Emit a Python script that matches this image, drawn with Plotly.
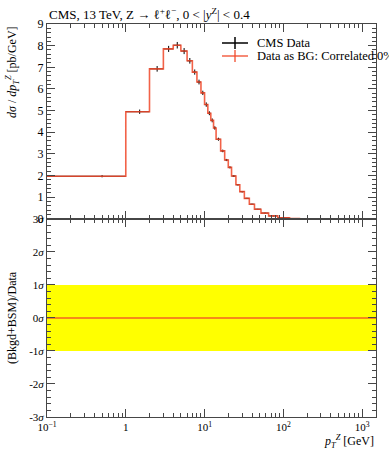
import plotly.graph_objects as go

# ---- data ----
bin_edges = [0, 1, 2, 3, 4, 5, 6, 7, 8, 9, 10, 11, 12, 13, 14, 16, 18, 20, 22, 25, 28,
             32, 37, 43, 52, 65, 85, 120, 160, 190, 220, 250, 300, 350, 400, 450, 500,
             1000, 1500]
cms_values = [1.97, 4.95, 6.93, 7.85, 8.02, 7.75, 7.30, 6.78, 6.32, 5.82, 5.28, 4.88,
              4.55, 4.20, 3.68, 3.14, 2.72, 2.38, 1.98, 1.58, 1.26, 0.95, 0.68, 0.45,
              0.27, 0.14, 0.055, 0.02, 0.009, 0.005, 0.003, 0.0017, 0.0009, 0.0005,
              0.0003, 0.0002, 0.00005, 0.000005]
cms_errors = [0.05, 0.10, 0.13, 0.14, 0.15, 0.14, 0.13, 0.12, 0.11, 0.10, 0.10, 0.09,
              0.09, 0.08, 0.07, 0.06, 0.05, 0.05, 0.04, 0.03, 0.03, 0.02, 0.02, 0.01,
              0.01, 0.005, 0.002, 0.001, 0.0005, 0.0003, 0.0002, 0.0001, 0.0001,
              0.00005, 0.00003, 0.00002, 0.00001, 0.000001]
bg_values = list(cms_values)  # Data as BG: Correlated 0%
pull_values = [0.0] * len(cms_values)
sigma_band = 1.0

y_tick_vals = [0, 1, 2, 3, 4, 5, 6, 7, 8, 9]
pull_tick_vals = [-3, -2, -1, 0, 1, 2, 3]
pull_tick_text = ["-3<i>σ</i>", "-2<i>σ</i>", "-1<i>σ</i>", "0<i>σ</i>",
                  "1<i>σ</i>", "2<i>σ</i>", "3<i>σ</i>"]
x_tick_vals = [0.1, 1, 10, 100, 1000]
x_tick_text = ["10<sup>−1</sup>", "1", "10<sup>1</sup>", "10<sup>2</sup>", "10<sup>3</sup>"]

FONT = "Liberation Serif"
RED = "rgba(240,70,40,0.85)"
AX = "rgb(70,70,70)"

# plot-safe edges on log axis
lo = [e if e > 0 else 0.01 for e in bin_edges[:-1]]
hi = bin_edges[1:]
centers = [(a + b) / 2 for a, b in zip(bin_edges[:-1], bin_edges[1:])]
xerr_m = [c - a for c, a in zip(centers, lo)]
xerr_p = [b - c for c, b in zip(centers, hi)]

step_x = lo + [hi[-1]]
step_y = bg_values + [bg_values[-1]]

fig = go.Figure()

# CMS data
fig.add_trace(go.Scatter(
    x=centers, y=cms_values, mode="markers",
    marker=dict(size=1, color="black"),
    error_y=dict(type="data", array=cms_errors, color="black", thickness=1, width=0),
    error_x=dict(type="data", array=xerr_p, arrayminus=xerr_m, color="black",
                 thickness=1, width=0),
    xaxis="x", yaxis="y", showlegend=False, hoverinfo="skip"))

# Data as BG
fig.add_trace(go.Scatter(
    x=step_x, y=step_y, mode="lines", line=dict(color=RED, width=1.6, shape="hv"),
    xaxis="x", yaxis="y", showlegend=False, hoverinfo="skip"))

# bottom panel band
band_x = lo + [hi[-1]]
band_up = [sigma_band] * len(band_x)
band_dn = [-sigma_band] * len(band_x)
fig.add_trace(go.Scatter(x=band_x, y=band_dn, mode="lines", line=dict(width=0, shape="hv"),
                         xaxis="x2", yaxis="y2", showlegend=False, hoverinfo="skip"))
fig.add_trace(go.Scatter(x=band_x, y=band_up, mode="lines", line=dict(width=0, shape="hv"),
                         fill="tonexty", fillcolor="rgb(255,255,0)",
                         xaxis="x2", yaxis="y2", showlegend=False, hoverinfo="skip"))
fig.add_trace(go.Scatter(x=band_x, y=pull_values + [pull_values[-1]], mode="lines",
                         line=dict(color=RED, width=1.6, shape="hv"),
                         xaxis="x2", yaxis="y2", showlegend=False, hoverinfo="skip"))

split = 0.504
xr = [-1, 3.176]
minor_x = [m * d for d in [0.1, 1, 10, 100, 1000] for m in range(2, 10) if m * d <= 1500]

common_x = dict(type="log", range=xr, showgrid=False, zeroline=False,
                ticks="inside", ticklen=8, tickcolor=AX, tickwidth=1,
                showline=True, linecolor=AX, linewidth=1, mirror="ticks",
                tickvals=x_tick_vals, automargin=False,
                minor=dict(tickvals=minor_x, ticks="inside", ticklen=4, tickcolor=AX,
                           showgrid=False))
common_y = dict(showgrid=False, zeroline=False, ticks="inside", ticklen=8,
                tickcolor=AX, tickwidth=1, showline=True, linecolor=AX, linewidth=1,
                mirror="ticks", automargin=False,
                minor=dict(dtick=0.2, ticks="inside", ticklen=4, tickcolor=AX,
                           showgrid=False))

fig.update_layout(
    width=389, height=450,
    margin=dict(l=47, r=13, t=24, b=33),
    paper_bgcolor="white", plot_bgcolor="white",
    font=dict(family=FONT, size=12, color="black"),
    xaxis=dict(common_x, domain=[0, 1], anchor="y", showticklabels=False),
    yaxis=dict(common_y, domain=[split, 1], anchor="x", range=[0, 9],
               tickvals=y_tick_vals, tickfont=dict(size=12)),
    xaxis2=dict(common_x, domain=[0, 1], anchor="y2", ticktext=x_tick_text,
                tickfont=dict(size=11)),
    yaxis2=dict(common_y, domain=[0, split], anchor="x2", range=[-3, 3],
                tickvals=pull_tick_vals, ticktext=pull_tick_text, tickfont=dict(size=11)),
)

# Title and axis titles
fig.add_annotation(xref="paper", yref="paper", x=0, y=1, yshift=0, xanchor="left",
                   yanchor="bottom", showarrow=False, font=dict(size=13),
                   text="CMS, 13 TeV, Z → ℓ<sup>+</sup>ℓ<sup>−</sup>, 0 &lt; |<i>y</i><sup>Z</sup>| &lt; 0.4")
fig.add_annotation(xref="paper", yref="paper", x=1, y=0, yshift=-14, xanchor="right",
                   yanchor="top", showarrow=False, font=dict(size=12),
                   text="<i>p</i><sub><i>T</i></sub><sup><i>Z</i></sup> [GeV]")
fig.add_annotation(xref="paper", yref="paper", x=0, xshift=-35, y=1, xanchor="center",
                   yanchor="top", textangle=-90, showarrow=False, font=dict(size=12),
                   text="<i>dσ</i> / <i>dp</i><sub><i>T</i></sub><sup><i>Z</i></sup> [pb/GeV]")
fig.add_annotation(xref="paper", yref="paper", x=0, xshift=-35, y=split / 2,
                   xanchor="center", yanchor="middle", textangle=-90, showarrow=False,
                   font=dict(size=12), text="(Bkgd+BSM)/Data")

# Legend (manual), positions in window pixels of the plot frame (47..376, 24..417)
def px(xp):
    return (xp - 47) / 329

def py(yp):
    return (417 - yp) / 393

legend = [("CMS Data", "black", 43), ("Data as BG: Correlated 0%", RED, 56)]
for label, col, yp in legend:
    fig.add_shape(type="line", xref="paper", yref="paper", x0=px(222), x1=px(248),
                  y0=py(yp), y1=py(yp), line=dict(color=col, width=1.5))
    fig.add_shape(type="line", xref="paper", yref="paper", x0=px(235), x1=px(235),
                  y0=py(yp - 6), y1=py(yp + 6), line=dict(color=col, width=1.5))
    fig.add_annotation(xref="paper", yref="paper", x=px(255), y=py(yp), xanchor="left",
                       yanchor="middle", showarrow=False, font=dict(size=12.5), text=label)

fig.write_html("out.html", config={"displayModeBar": False},
               post_script="document.body.style.margin='0px';")
